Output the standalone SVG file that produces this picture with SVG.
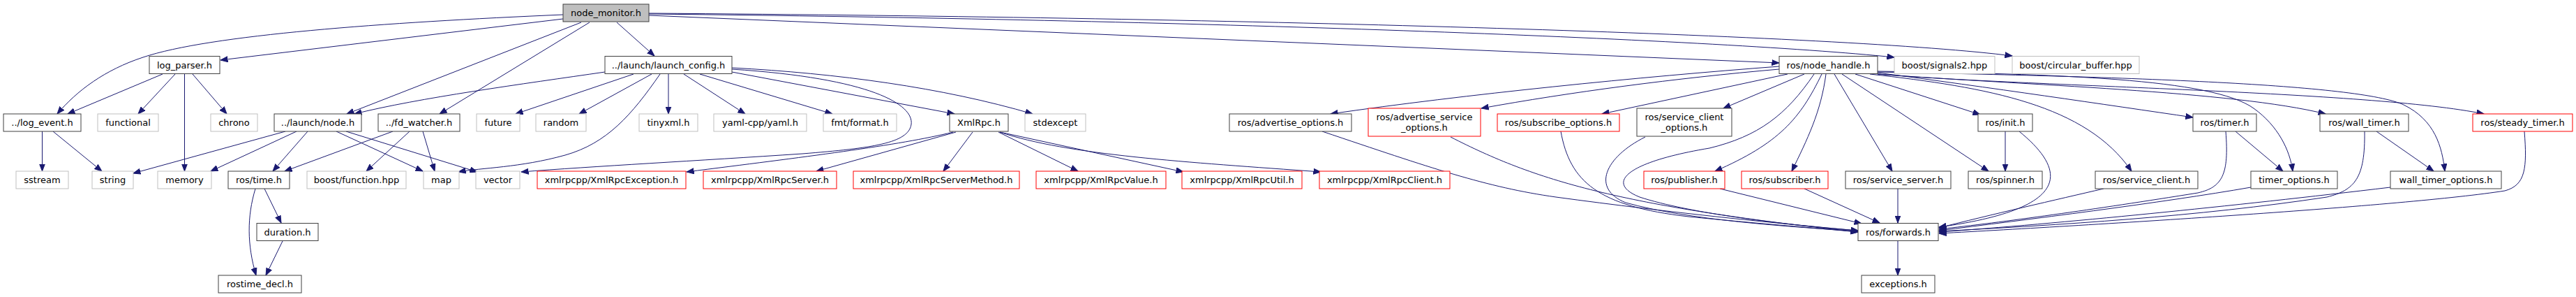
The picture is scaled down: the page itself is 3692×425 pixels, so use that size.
<svg xmlns="http://www.w3.org/2000/svg" width="3692" height="425" viewBox="0 0 3692 425">
<style>
rect{fill:#fff;stroke-width:1}
.b{stroke:#404040}
.g{stroke:#bfbfbf}
.r{stroke:#ff0000}
.root{fill:#bfbfbf;stroke:#404040}
text{font-family:"DejaVu Sans","Liberation Sans",sans-serif;font-size:13px;fill:#000;text-anchor:middle}
.e path{fill:none;stroke:#191970;stroke-width:1;marker-end:url(#ah)}
</style>
<defs>
<marker id="ah" viewBox="0 0 11 9" refX="10.5" refY="4.5" markerWidth="11" markerHeight="9" markerUnits="userSpaceOnUse" orient="auto">
<path d="M0,0.5 L10.5,4.5 L0,8.5 z" fill="#191970" stroke="#191970" stroke-width="1"/>
</marker>
</defs>
<rect x="0" y="0" width="3692" height="425" style="fill:#fff;stroke:none"/>
<g class="e" id="edges">
<path d="M807,21 C550,32 300,50 205,82 C150,100 110,130 82,163"/>
<path d="M807,27 L316,86"/>
<path d="M833,32 L497,163"/>
<path d="M845,32 L630,163"/>
<path d="M884,32 L938,80"/>
<path d="M930,22 L2550,90"/>
<path d="M930,20 C1700,28 2450,55 2715,82"/>
<path d="M930,19 C1800,25 2650,50 2884,80"/>
<path d="M233,106 L97,163"/>
<path d="M251,106 L198,163"/>
<path d="M264.5,106 L264.5,245"/>
<path d="M276,106 L325,163"/>
<path d="M60.5,188 L60.5,245"/>
<path d="M76,188 L146,245"/>
<path d="M409,188 L191,248"/>
<path d="M425,188 L302,245"/>
<path d="M441,188 L391,245"/>
<path d="M482,188 L606,245"/>
<path d="M496,188 L684,246"/>
<path d="M563,188 L408,245"/>
<path d="M587,188 L525,245"/>
<path d="M606,188 L623,245"/>
<path d="M379,270 L403,319"/>
<path d="M366,270 C354,310 354,350 367,394"/>
<path d="M405,345 L381,394"/>
<path d="M867,103 C750,120 600,140 508,163"/>
<path d="M908,106 L739,163"/>
<path d="M934,106 L830,163"/>
<path d="M946,106 C905,165 870,205 810,222 C745,240 690,240 657,246"/>
<path d="M958,106 L958,163"/>
<path d="M980,106 L1068,163"/>
<path d="M1003,106 L1193,163"/>
<path d="M1049,103 L1368,163"/>
<path d="M1049,97 C1200,105 1350,125 1480,163"/>
<path d="M1049,99 C1250,112 1310,150 1306,178 C1302,205 1250,212 1150,220 C1000,230 850,238 747,246"/>
<path d="M1366,189 C1290,208 1150,225 984,246"/>
<path d="M1370,189 L1170,245"/>
<path d="M1394,189 L1352,245"/>
<path d="M1431,189 L1545,245"/>
<path d="M1433,189 L1696,246"/>
<path d="M1433,189 C1530,222 1700,232 1893,246"/>
<path d="M2550,95 C2350,110 2100,135 1907,163"/>
<path d="M2550,99 C2400,112 2250,132 2123,155"/>
<path d="M2562,106 L2296,163"/>
<path d="M2586,106 L2470,155"/>
<path d="M2611,106 C2580,170 2550,205 2458,245"/>
<path d="M2617,106 C2610,160 2590,200 2568,245"/>
<path d="M2629,106 L2712,245"/>
<path d="M2640,106 L2850,245"/>
<path d="M2659,106 L2838,164"/>
<path d="M2600,106 C2560,165 2520,195 2450,212 C2330,232 2300,262 2350,282 C2420,305 2560,322 2663,330"/>
<path d="M2680,106 C2850,125 2990,150 3055,245"/>
<path d="M2691,104 C2850,125 3020,150 3143,168"/>
<path d="M2691,102 C2950,106 3170,112 3230,155 C3265,180 3282,215 3286,245"/>
<path d="M2691,103 C3050,110 3380,120 3445,150 C3490,172 3500,210 3504,245"/>
<path d="M2691,106 C2900,122 3200,130 3333,163"/>
<path d="M2691,106 C2900,124 3400,130 3560,163"/>
<path d="M2874,188 L2874,245"/>
<path d="M2894,188 C2970,250 2960,300 2779,325"/>
<path d="M2720,270 L2720,319"/>
<path d="M2586,270 L2694,319"/>
<path d="M2465,270 L2668,320"/>
<path d="M1895,188 C2050,240 2130,268 2230,282 C2400,305 2550,320 2663,330"/>
<path d="M2079,196 C2200,258 2320,295 2663,332"/>
<path d="M2237,188 C2250,260 2290,295 2420,310 C2520,320 2600,326 2663,332"/>
<path d="M2358,196 C2300,225 2280,270 2330,290 C2420,315 2560,324 2663,331"/>
<path d="M3015,270 C2950,285 2850,308 2779,326"/>
<path d="M3204,188 L3272,245"/>
<path d="M3190,188 C3195,250 3185,268 3150,276 C3000,300 2870,318 2779,328"/>
<path d="M3226,268 C3100,290 2900,315 2779,330"/>
<path d="M3406,188 L3488,245"/>
<path d="M3389,188 C3390,255 3375,272 3335,282 C3150,310 2950,322 2779,331"/>
<path d="M3426,268 C3200,295 2950,320 2779,332"/>
<path d="M3618,188 C3622,240 3620,265 3590,273 C3450,295 3000,322 2779,334"/>
<path d="M2720,345 L2720,394"/>
</g>
<g id="node_monitor"><rect class="root" x="807" y="6" width="123" height="25"/><text x="868.5" y="23">node_monitor.h</text></g>
<g id="log_parser"><rect class="b" x="214" y="80.5" width="101" height="25"/><text x="264.5" y="97.5">log_parser.h</text></g>
<g id="log_event"><rect class="b" x="5" y="163" width="111" height="25"/><text x="60.5" y="180">../log_event.h</text></g>
<g id="functional"><rect class="g" x="140" y="163" width="87" height="25"/><text x="183.5" y="180">functional</text></g>
<g id="chrono"><rect class="g" x="302" y="163" width="67" height="25"/><text x="335.5" y="180">chrono</text></g>
<g id="launch_node"><rect class="b" x="393" y="163" width="125" height="25"/><text x="455.5" y="180">../launch/node.h</text></g>
<g id="fd_watcher"><rect class="b" x="542" y="163" width="117" height="25"/><text x="600.5" y="180">../fd_watcher.h</text></g>
<g id="sstream"><rect class="g" x="23" y="245" width="75" height="25"/><text x="60.5" y="262">sstream</text></g>
<g id="string"><rect class="g" x="132" y="245" width="59" height="25"/><text x="161.5" y="262">string</text></g>
<g id="memory"><rect class="g" x="226" y="245" width="77" height="25"/><text x="264.5" y="262">memory</text></g>
<g id="ros_time"><rect class="b" x="327" y="245" width="88" height="25"/><text x="371" y="262">ros/time.h</text></g>
<g id="boost_function"><rect class="g" x="440" y="245" width="142" height="25"/><text x="511" y="262">boost/function.hpp</text></g>
<g id="map"><rect class="g" x="607" y="245" width="51" height="25"/><text x="632.5" y="262">map</text></g>
<g id="duration"><rect class="b" x="368" y="319.5" width="88" height="25"/><text x="412" y="336.5">duration.h</text></g>
<g id="rostime_decl"><rect class="b" x="313" y="394" width="119" height="25"/><text x="372.5" y="411">rostime_decl.h</text></g>
<g id="launch_config"><rect class="b" x="867" y="80.5" width="182" height="25"/><text x="958" y="97.5">../launch/launch_config.h</text></g>
<g id="future"><rect class="g" x="683" y="163" width="62" height="25"/><text x="714" y="180">future</text></g>
<g id="random"><rect class="g" x="768" y="163" width="72" height="25"/><text x="804" y="180">random</text></g>
<g id="tinyxml"><rect class="g" x="916" y="163" width="84" height="25"/><text x="958" y="180">tinyxml.h</text></g>
<g id="yaml"><rect class="g" x="1023" y="163" width="133" height="25"/><text x="1089.5" y="180">yaml-cpp/yaml.h</text></g>
<g id="fmt"><rect class="g" x="1180" y="163" width="105" height="25"/><text x="1232.5" y="180">fmt/format.h</text></g>
<g id="vector"><rect class="g" x="682" y="245" width="63" height="25"/><text x="713.5" y="262">vector</text></g>
<g id="xr_exception"><rect class="r" x="770" y="245" width="213" height="25"/><text x="876.5" y="262">xmlrpcpp/XmlRpcException.h</text></g>
<g id="xr_server"><rect class="r" x="1008" y="245" width="191" height="25"/><text x="1103.5" y="262">xmlrpcpp/XmlRpcServer.h</text></g>
<g id="xmlrpc"><rect class="b" x="1361" y="163" width="84" height="25"/><text x="1403" y="180">XmlRpc.h</text></g>
<g id="stdexcept"><rect class="g" x="1469" y="163" width="87" height="25"/><text x="1512.5" y="180">stdexcept</text></g>
<g id="xr_servermethod"><rect class="r" x="1223" y="245" width="238" height="25"/><text x="1342" y="262">xmlrpcpp/XmlRpcServerMethod.h</text></g>
<g id="xr_value"><rect class="r" x="1485" y="245" width="186" height="25"/><text x="1578" y="262">xmlrpcpp/XmlRpcValue.h</text></g>
<g id="xr_util"><rect class="r" x="1694" y="245" width="172" height="25"/><text x="1780" y="262">xmlrpcpp/XmlRpcUtil.h</text></g>
<g id="xr_client"><rect class="r" x="1891" y="245" width="187" height="25"/><text x="1984.5" y="262">xmlrpcpp/XmlRpcClient.h</text></g>
<g id="advertise_options"><rect class="b" x="1762" y="163" width="175" height="25"/><text x="1849.5" y="180">ros/advertise_options.h</text></g>
<g id="advertise_service_options"><rect class="r" x="1961" y="155" width="161" height="40"/><text x="2041.5" y="172">ros/advertise_service</text><text x="2041.5" y="187">_options.h</text></g>
<g id="subscribe_options"><rect class="r" x="2146" y="163" width="175" height="25"/><text x="2233.5" y="180">ros/subscribe_options.h</text></g>
<g id="service_client_options"><rect class="b" x="2346" y="155" width="136" height="40"/><text x="2414" y="172">ros/service_client</text><text x="2414" y="187">_options.h</text></g>
<g id="publisher"><rect class="r" x="2356" y="245" width="116" height="25"/><text x="2414" y="262">ros/publisher.h</text></g>
<g id="node_handle"><rect class="b" x="2550" y="80.5" width="141" height="25"/><text x="2620.5" y="97.5">ros/node_handle.h</text></g>
<g id="signals2"><rect class="g" x="2715" y="80.5" width="144" height="25"/><text x="2787" y="97.5">boost/signals2.hpp</text></g>
<g id="circular_buffer"><rect class="g" x="2884" y="80.5" width="182" height="25"/><text x="2975" y="97.5">boost/circular_buffer.hpp</text></g>
<g id="init"><rect class="b" x="2835" y="163" width="78" height="25"/><text x="2874" y="180">ros/init.h</text></g>
<g id="subscriber"><rect class="r" x="2496" y="245" width="124" height="25"/><text x="2558" y="262">ros/subscriber.h</text></g>
<g id="service_server"><rect class="b" x="2645" y="245" width="151" height="25"/><text x="2720.5" y="262">ros/service_server.h</text></g>
<g id="spinner"><rect class="b" x="2821" y="245" width="106" height="25"/><text x="2874" y="262">ros/spinner.h</text></g>
<g id="forwards"><rect class="b" x="2663" y="319.5" width="115" height="25"/><text x="2720.5" y="336.5">ros/forwards.h</text></g>
<g id="exceptions"><rect class="b" x="2668" y="394" width="105" height="25"/><text x="2720.5" y="411">exceptions.h</text></g>
<g id="service_client"><rect class="b" x="3003" y="245" width="147" height="25"/><text x="3076.5" y="262">ros/service_client.h</text></g>
<g id="timer"><rect class="b" x="3143" y="163" width="91" height="25"/><text x="3188.5" y="180">ros/timer.h</text></g>
<g id="wall_timer"><rect class="b" x="3325" y="163" width="127" height="25"/><text x="3388.5" y="180">ros/wall_timer.h</text></g>
<g id="steady_timer"><rect class="r" x="3544" y="163" width="143" height="25"/><text x="3615.5" y="180">ros/steady_timer.h</text></g>
<g id="timer_options"><rect class="b" x="3226" y="245" width="124" height="25"/><text x="3288" y="262">timer_options.h</text></g>
<g id="wall_timer_options"><rect class="b" x="3426" y="245" width="159" height="25"/><text x="3505.5" y="262">wall_timer_options.h</text></g>
</svg>
